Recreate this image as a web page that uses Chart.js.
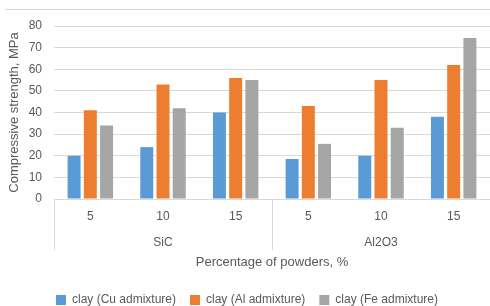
<!DOCTYPE html>
<html>
<head>
<meta charset="utf-8">
<script src="https://cdn.jsdelivr.net/npm/chart.js@4/dist/chart.umd.min.js"></script>
<style>
  html, body { margin: 0; padding: 0; background: #fff; }
</style>
</head>
<body>
<canvas id="barChart" width="490" height="306"></canvas>
<script>
var percents = ['5', '10', '15', '5', '10', '15'];
var powders = ['SiC', 'Al2O3'];
var cuValues = [20, 24, 40, 18.5, 20, 38];
var alValues = [41, 53, 56, 43, 55, 62];
var feValues = [34, 42, 55, 25.5, 33, 74.5];
var yTicks = [0, 10, 20, 30, 40, 50, 60, 70, 80];

var gridColor = '#d9d9d9';
var textColor = '#595959';
var font = { family: 'Liberation Sans', size: 12 };
var titleFont = { family: 'Liberation Sans', size: 13 };

// frame line on top + group dividers under the axis
var frame = {
  id: 'frame',
  beforeDraw: function (chart) {
    var c = chart.ctx;
    c.save();
    c.strokeStyle = gridColor;
    c.lineWidth = 1;
    c.beginPath();
    c.moveTo(5, 9.5);
    c.lineTo(chart.width, 9.5);
    c.stroke();
    c.restore();
  },
  afterDraw: function (chart) {
    var c = chart.ctx;
    var x = chart.scales.x;
    var x2 = chart.scales.x2;
    var top = chart.chartArea.bottom;
    var bottom = x2.top + 24;
    var n = percents.length / powders.length;
    var step = x.getPixelForValue(1) - x.getPixelForValue(0);
    c.save();
    c.strokeStyle = gridColor;
    c.lineWidth = 1;
    for (var i = 0; i < powders.length; i++) {
      var px = Math.round(x.getPixelForValue(i * n) - step / 2) + 0.5;
      c.beginPath();
      c.moveTo(px, top);
      c.lineTo(px, bottom);
      c.stroke();
    }
    c.restore();
  }
};

var ctx = document.getElementById('barChart').getContext('2d');
var myChart = new Chart(ctx, {
  type: 'bar',
  data: {
    labels: percents,
    datasets: [{
      label: 'clay (Cu admixture)',
      data: cuValues,
      backgroundColor: '#5b9bd5'
    }, {
      label: 'clay (Al admixture)',
      data: alValues,
      backgroundColor: '#ed7d31'
    }, {
      label: 'clay (Fe admixture)',
      data: feValues,
      backgroundColor: '#a5a5a5'
    }]
  },
  options: {
    responsive: false,
    animation: false,
    categoryPercentage: 0.67,
    barPercentage: 0.8,
    layout: { padding: { top: 26, right: 0, left: 4, bottom: 0 } },
    plugins: {
      tooltip: { enabled: false },
      legend: {
        position: 'bottom',
        maxHeight: 26,
        labels: {
          color: textColor,
          font: font,
          boxWidth: 10,
          boxHeight: 10,
          padding: 14
        }
      }
    },
    scales: {
      x: {
        grid: { display: false, drawTicks: false },
        border: { display: false },
        ticks: { color: textColor, font: font, padding: 10 },
        afterFit: function (axis) { axis.height = 27; }
      },
      x2: {
        type: 'category',
        labels: powders,
        position: 'bottom',
        offset: true,
        grid: { display: false, drawTicks: false },
        border: { display: false },
        ticks: { color: textColor, font: font, padding: 9 },
        title: {
          display: true,
          text: 'Percentage of powders, %',
          color: textColor,
          font: titleFont,
          padding: { top: 4, bottom: 10 }
        },
        afterFit: function (axis) { axis.height = 54; }
      },
      y: {
        min: 0,
        max: 80,
        afterBuildTicks: function (axis) {
          axis.ticks = yTicks.map(function (v) { return { value: v }; });
        },
        grid: { color: gridColor, drawTicks: false },
        border: { display: false },
        ticks: { color: textColor, font: font, padding: 12 },
        title: {
          display: true,
          text: 'Compressive strength, MPa',
          color: textColor,
          font: titleFont,
          padding: { top: 3, bottom: 0 }
        },
        afterFit: function (axis) { axis.width = 50; }
      }
    }
  },
  plugins: [frame]
});
</script>
</body>
</html>
